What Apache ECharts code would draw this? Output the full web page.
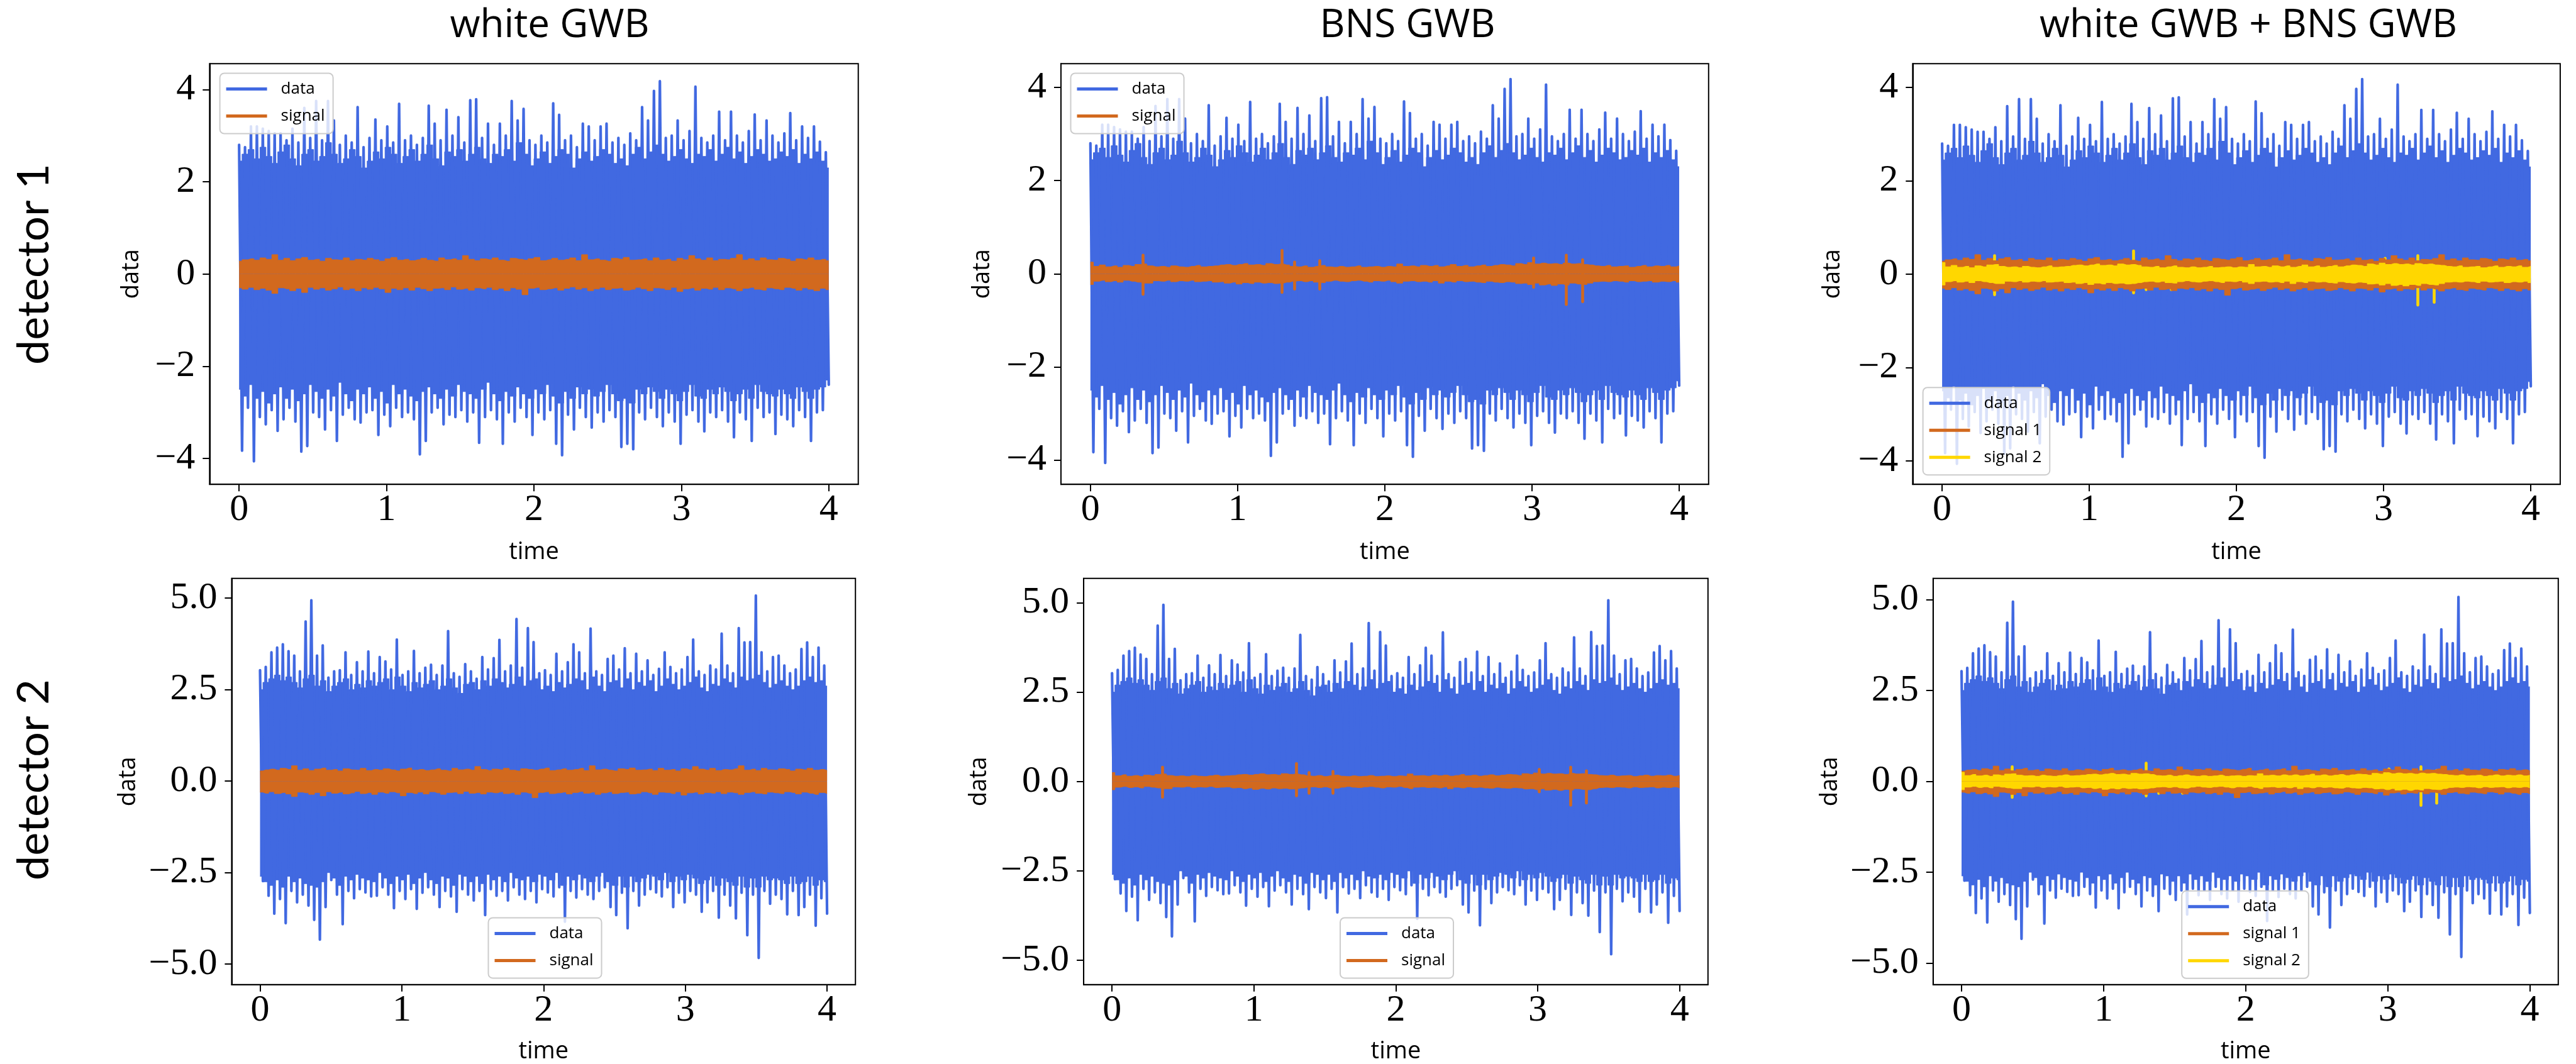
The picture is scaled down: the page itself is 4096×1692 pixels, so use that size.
<!DOCTYPE html>
<html><head><meta charset="utf-8">
<script src="https://cdn.jsdelivr.net/npm/echarts@6/dist/echarts.min.js"></script>
<style>html,body{margin:0;padding:0;background:#fff}#c{width:4096px;height:1692px}</style>
</head><body><div id="c"></div>
<script>
// ---------- data ----------
const timeSpan = [0, 4];
const timeTicks = [0, 1, 2, 3, 4];
const yTicksDet1 = [-4, -2, 0, 2, 4];
const yTicksDet2 = [-5, -2.5, 0, 2.5, 5];
const columnTitles = ['white GWB', 'BNS GWB', 'white GWB + BNS GWB'];
const rowTitles = ['detector 1', 'detector 2'];

// detector 1 data: per time bin, tallest spike up / down
const det1Hi = [2.8,2.75,3.2,3.2,3.15,3.1,3.05,3.05,2.9,3.15,
2.85,3.6,2.95,3.75,2.9,3.75,3.33,2.8,3.0,2.85,
3.62,2.75,2.95,3.35,2.9,3.2,2.85,3.69,2.9,3.0,
2.8,2.95,3.65,3.26,2.9,3.56,3.0,3.4,2.85,3.77,
3.79,2.95,3.26,2.8,3.26,3.0,3.75,3.33,3.58,2.9,
2.8,3.0,2.85,3.7,3.45,2.9,3.0,2.75,3.26,3.2,
2.9,3.2,3.26,2.85,2.95,2.8,3.05,2.9,3.62,3.33,
3.97,4.18,2.95,3.0,3.33,2.9,3.1,4.06,2.95,2.85,
3.0,3.52,2.9,3.52,3.0,2.85,3.1,3.46,2.9,3.33,
3.0,2.85,3.05,3.49,2.9,3.2,2.95,3.2,2.87,2.64];
const det1Lo = [-3.83,-2.9,-4.06,-3.1,-3.26,-2.95,-3.4,-3.15,-2.9,-3.2,
-3.85,-3.73,-3.0,-3.1,-3.37,-2.95,-3.62,-3.05,-2.9,-3.15,
-3.22,-3.0,-2.95,-3.49,-3.05,-3.3,-2.9,-3.1,-3.0,-3.15,
-3.91,-3.62,-3.0,-2.9,-3.26,-3.05,-3.1,-2.95,-3.2,-3.0,
-3.66,-3.1,-2.95,-3.15,-3.68,-3.0,-3.2,-2.9,-3.1,-3.49,
-3.0,-3.15,-2.95,-3.68,-3.93,-3.05,-3.37,-2.9,-3.1,-3.33,
-3.0,-3.2,-2.95,-3.1,-3.75,-3.68,-3.8,-3.0,-3.15,-2.9,
-3.1,-3.3,-3.0,-3.2,-3.68,-3.05,-2.95,-3.2,-3.41,-3.0,
-3.1,-2.95,-3.2,-3.54,-3.0,-3.15,-3.62,-2.9,-3.1,-3.0,
-3.47,-3.05,-3.15,-3.3,-2.95,-3.1,-3.62,-3.0,-2.95,-2.4];
// detector 1 data: per time bin, edge of the dense mass
const det1DenseHi = [2.45,2.6,2.7,2.5,2.75,2.55,2.4,2.65,2.8,2.5,
2.35,2.6,2.7,2.45,2.55,2.85,2.6,2.4,2.5,2.7,
2.55,2.3,2.45,2.65,2.5,2.75,2.6,2.4,2.55,2.7,
2.45,2.6,2.8,2.5,2.35,2.65,2.55,2.7,2.45,2.6,
2.75,2.5,2.4,2.6,2.55,2.7,2.45,2.85,2.6,2.35,
2.5,2.65,2.4,2.55,2.7,2.6,2.3,2.5,2.65,2.45,
2.55,2.7,2.6,2.4,2.5,2.35,2.6,2.75,2.5,2.65,
2.8,2.6,2.45,2.55,2.7,2.5,2.4,2.6,2.55,2.7,
2.45,2.6,2.75,2.5,2.65,2.4,2.55,2.7,2.6,2.45,
2.5,2.65,2.55,2.7,2.4,2.6,2.5,2.65,2.45,2.3];
const det1DenseLo = [-2.5,-2.65,-2.4,-2.7,-2.55,-2.8,-2.6,-2.45,-2.7,-2.5,
-2.75,-2.6,-2.4,-2.55,-2.7,-2.5,-2.65,-2.35,-2.6,-2.75,
-2.5,-2.6,-2.45,-2.7,-2.55,-2.8,-2.4,-2.6,-2.5,-2.65,
-2.75,-2.55,-2.45,-2.6,-2.7,-2.5,-2.65,-2.4,-2.55,-2.6,
-2.7,-2.5,-2.35,-2.6,-2.75,-2.55,-2.65,-2.45,-2.6,-2.7,
-2.5,-2.6,-2.4,-2.65,-2.8,-2.55,-2.7,-2.45,-2.6,-2.5,
-2.65,-2.55,-2.4,-2.6,-2.75,-2.7,-2.8,-2.5,-2.6,-2.45,
-2.55,-2.7,-2.5,-2.6,-2.75,-2.55,-2.4,-2.65,-2.7,-2.5,
-2.6,-2.45,-2.55,-2.75,-2.6,-2.5,-2.7,-2.4,-2.55,-2.6,
-2.65,-2.5,-2.6,-2.7,-2.45,-2.55,-2.7,-2.5,-2.45,-2.3];

// detector 2 data
const det2Hi = [3.03,3.12,3.52,3.65,3.74,3.55,3.43,3.0,4.36,4.94,
3.43,3.71,2.83,3.0,3.03,3.52,2.9,3.25,3.0,3.54,
2.95,3.39,3.27,3.05,3.87,2.9,3.0,3.56,2.95,3.1,
3.18,2.9,3.16,4.1,2.95,2.85,3.2,3.0,2.8,3.39,
3.05,3.36,3.86,3.0,3.16,4.43,3.1,4.18,3.8,2.95,
3.03,2.9,3.48,3.0,3.25,3.74,3.52,2.95,4.17,3.0,
2.9,3.34,3.43,3.05,3.63,2.95,3.48,3.0,3.3,2.9,
3.07,3.52,3.12,2.95,3.05,3.39,3.87,3.0,2.9,3.16,
3.05,4.03,3.16,2.95,4.18,3.79,3.8,5.07,3.52,3.0,
3.39,3.43,3.16,2.95,3.05,3.61,3.79,3.39,3.65,3.16];
const det2Lo = [-2.73,-3.13,-3.62,-3.22,-3.88,-3.0,-3.31,-3.1,-3.4,-3.79,
-4.33,-3.44,-2.7,-3.1,-3.91,-3.0,-3.2,-2.95,-3.04,-3.15,
-3.13,-2.9,-3.1,-3.47,-3.0,-3.22,-2.95,-3.49,-3.05,-2.9,
-3.1,-3.44,-3.0,-3.15,-3.57,-2.95,-3.1,-3.26,-3.0,-3.66,
-2.95,-3.13,-3.0,-3.26,-2.9,-3.1,-3.22,-3.0,-3.31,-2.95,
-3.04,-3.15,-2.9,-3.84,-3.0,-3.18,-2.95,-3.1,-3.22,-3.0,
-2.9,-3.44,-3.66,-3.05,-4.02,-3.0,-3.4,-3.1,-2.95,-3.04,
-3.15,-2.9,-3.44,-3.05,-3.31,-3.0,-3.1,-3.57,-3.31,-3.0,
-3.73,-3.1,-3.4,-3.75,-3.05,-4.21,-3.1,-4.83,-3.0,-3.35,
-3.1,-3.22,-3.64,-3.0,-3.66,-3.44,-3.1,-3.95,-3.2,-3.62];
const det2DenseHi = [2.5,2.7,2.8,2.9,2.75,2.85,2.7,2.55,2.8,2.9,
2.6,2.75,2.45,2.6,2.7,2.8,2.5,2.65,2.55,2.75,
2.6,2.7,2.8,2.5,2.85,2.6,2.45,2.7,2.55,2.65,
2.75,2.5,2.6,2.8,2.55,2.4,2.65,2.7,2.5,2.75,
2.6,2.8,2.7,2.55,2.65,2.85,2.6,2.75,2.8,2.5,
2.6,2.45,2.7,2.55,2.65,2.8,2.75,2.5,2.85,2.6,
2.45,2.7,2.75,2.55,2.8,2.5,2.7,2.6,2.75,2.45,
2.6,2.8,2.65,2.5,2.6,2.7,2.85,2.55,2.45,2.65,
2.6,2.8,2.7,2.55,2.85,2.75,2.8,2.9,2.7,2.55,
2.65,2.75,2.6,2.5,2.6,2.75,2.85,2.7,2.75,2.6];
const det2DenseLo = [-2.6,-2.75,-2.85,-2.7,-2.9,-2.6,-2.75,-2.65,-2.8,-2.85,
-2.9,-2.75,-2.5,-2.65,-2.85,-2.6,-2.7,-2.55,-2.65,-2.7,
-2.75,-2.5,-2.65,-2.8,-2.6,-2.7,-2.55,-2.8,-2.65,-2.5,
-2.7,-2.8,-2.6,-2.65,-2.85,-2.55,-2.6,-2.75,-2.6,-2.8,
-2.55,-2.7,-2.6,-2.75,-2.5,-2.65,-2.7,-2.6,-2.75,-2.55,
-2.6,-2.7,-2.5,-2.85,-2.6,-2.7,-2.55,-2.65,-2.75,-2.6,
-2.5,-2.75,-2.85,-2.6,-2.9,-2.6,-2.75,-2.65,-2.55,-2.6,
-2.7,-2.5,-2.75,-2.6,-2.7,-2.55,-2.65,-2.8,-2.7,-2.6,
-2.85,-2.65,-2.75,-2.85,-2.6,-2.9,-2.65,-2.9,-2.6,-2.7,
-2.65,-2.7,-2.8,-2.6,-2.8,-2.75,-2.6,-2.85,-2.7,-2.75];

// white GWB signal (common to both detectors): per time bin upper / lower edge
const whiteHi = [0.28,0.31,0.33,0.3,0.35,0.32,0.42,0.3,0.34,0.29,
0.33,0.36,0.3,0.32,0.28,0.34,0.31,0.3,0.35,0.29,
0.32,0.3,0.34,0.31,0.28,0.33,0.36,0.3,0.32,0.29,
0.31,0.34,0.3,0.28,0.35,0.31,0.33,0.3,0.4,0.32,
0.29,0.33,0.31,0.35,0.3,0.28,0.34,0.32,0.3,0.33,
0.36,0.29,0.31,0.34,0.3,0.32,0.35,0.29,0.42,0.31,
0.33,0.3,0.28,0.34,0.32,0.36,0.3,0.31,0.33,0.29,
0.35,0.3,0.32,0.28,0.34,0.31,0.4,0.33,0.3,0.35,
0.29,0.32,0.31,0.34,0.42,0.3,0.33,0.29,0.35,0.31,
0.3,0.34,0.32,0.28,0.33,0.31,0.35,0.3,0.32,0.29];
const whiteLo = [-0.3,-0.33,-0.29,-0.34,-0.31,-0.35,-0.42,-0.3,-0.32,-0.36,
-0.31,-0.4,-0.29,-0.33,-0.3,-0.35,-0.32,-0.28,-0.34,-0.31,
-0.36,-0.3,-0.33,-0.29,-0.32,-0.4,-0.31,-0.34,-0.3,-0.35,
-0.29,-0.32,-0.36,-0.31,-0.3,-0.34,-0.28,-0.33,-0.31,-0.35,
-0.3,-0.32,-0.29,-0.34,-0.31,-0.36,-0.3,-0.33,-0.45,-0.31,
-0.29,-0.34,-0.32,-0.3,-0.35,-0.31,-0.28,-0.33,-0.3,-0.36,
-0.32,-0.29,-0.34,-0.31,-0.3,-0.35,-0.33,-0.29,-0.32,-0.36,
-0.3,-0.31,-0.34,-0.29,-0.38,-0.32,-0.3,-0.35,-0.31,-0.33,
-0.29,-0.34,-0.3,-0.32,-0.36,-0.31,-0.29,-0.33,-0.35,-0.3,
-0.32,-0.34,-0.29,-0.31,-0.35,-0.3,-0.33,-0.36,-0.31,-0.34];

// BNS GWB signal (common to both detectors): per time bin upper / lower edge
const bnsHi = [0.25,0.16,0.19,0.15,0.17,0.14,0.18,0.16,0.2,0.21,
0.17,0.15,0.16,0.14,0.17,0.15,0.14,0.16,0.18,0.15,
0.16,0.17,0.19,0.2,0.18,0.2,0.22,0.19,0.2,0.18,
0.22,0.2,0.21,0.19,0.16,0.15,0.17,0.14,0.16,0.18,
0.15,0.14,0.16,0.14,0.15,0.17,0.14,0.15,0.16,0.14,
0.16,0.15,0.21,0.16,0.17,0.15,0.18,0.16,0.18,0.15,
0.17,0.2,0.16,0.18,0.15,0.17,0.19,0.16,0.18,0.2,
0.19,0.17,0.22,0.2,0.24,0.21,0.23,0.21,0.22,0.2,
0.23,0.21,0.22,0.2,0.19,0.17,0.16,0.18,0.15,0.16,
0.17,0.14,0.16,0.18,0.15,0.17,0.16,0.18,0.15,0.17];
const bnsLo = [-0.23,-0.16,-0.14,-0.17,-0.15,-0.18,-0.14,-0.16,-0.18,-0.2,
-0.2,-0.15,-0.16,-0.14,-0.17,-0.15,-0.16,-0.14,-0.17,-0.16,
-0.15,-0.18,-0.17,-0.2,-0.18,-0.22,-0.19,-0.21,-0.18,-0.2,
-0.19,-0.21,-0.2,-0.18,-0.16,-0.15,-0.17,-0.15,-0.18,-0.19,
-0.16,-0.14,-0.16,-0.17,-0.15,-0.14,-0.16,-0.18,-0.15,-0.16,
-0.14,-0.17,-0.2,-0.16,-0.15,-0.17,-0.16,-0.18,-0.15,-0.2,
-0.16,-0.18,-0.15,-0.17,-0.16,-0.18,-0.19,-0.16,-0.18,-0.19,
-0.17,-0.18,-0.21,-0.2,-0.23,-0.2,-0.24,-0.22,-0.25,-0.22,
-0.24,-0.2,-0.22,-0.23,-0.2,-0.17,-0.16,-0.17,-0.15,-0.16,
-0.18,-0.15,-0.17,-0.16,-0.15,-0.18,-0.16,-0.17,-0.15,-0.18];
// BNS GWB signal: isolated bursts (time, peak up, peak down)
const bnsBurstTime = [0.356, 1.30, 1.386, 1.556, 3.008, 3.233, 3.344];
const bnsBurstUp = [0.40, 0.50, 0.25, 0.28, 0.34, 0.40, 0.30];
const bnsBurstDown = [-0.44, -0.40, -0.33, -0.33, -0.29, -0.66, -0.60];

// ---------- layout / style ----------
const BLUE = '#4169E1', ORANGE = '#D2691E', GOLD = '#FFD700';
const SANS = '"Open Sans", "Noto Sans", sans-serif';
const SERIF = '"Liberation Serif", "DejaVu Serif", serif';
const panels = [
  {left:333.3, top:101.3, width:1031.4, height:668.9, ymin:-4.56, ymax:4.56, row:0, col:0, nameGap:105},
  {left:1687.0, top:101.3, width:1029.8, height:668.9, ymin:-4.52, ymax:4.51, row:0, col:1, nameGap:106},
  {left:3041.3, top:101.3, width:1029.6, height:668.9, ymin:-4.5, ymax:4.51, row:0, col:2, nameGap:108},
  {left:368.4, top:919.8, width:991.8, height:646.0, ymin:-5.56, ymax:5.54, row:1, col:0, nameGap:145},
  {left:1723.1, top:919.8, width:992.7, height:646.0, ymin:-5.68, ymax:5.68, row:1, col:1, nameGap:147},
  {left:3073.8, top:919.8, width:994.0, height:646.0, ymin:-5.59, ymax:5.58, row:1, col:2, nameGap:145}
];
const xNameGap = [89, 87];
const legendPos = [
  {left:349.6, top:116.5}, {left:1702.5, top:116.5}, {left:3057.6, top:616.2},
  {left:776.5, top:1459.4}, {left:2131.0, top:1459.4}, {left:3469.2, top:1416.8}
];

function binTimes(n) {
  const span = timeSpan[1] - timeSpan[0];
  return Array.from({length: n}, (_, i) => timeSpan[0] + i * span / (n - 1));
}
function zig(hi, lo) {
  const pts = [], n = hi.length, m = 2 * n - 1, span = timeSpan[1] - timeSpan[0];
  for (let i = 0; i < n; i++) {
    pts.push([timeSpan[0] + (2 * i) * span / m, hi[i]]);
    pts.push([timeSpan[0] + (2 * i + 1) * span / m, lo[i]]);
  }
  return pts;
}
function stepArea(vals, name, idx, color, z) {
  const t = binTimes(vals.length);
  return {type: 'line', name, xAxisIndex: idx, yAxisIndex: idx,
    data: vals.map((v, i) => [t[i], v]), step: 'middle',
    showSymbol: false, symbol: 'none', color,
    lineStyle: {color, width: 1}, areaStyle: {color, opacity: 1, origin: 'auto'},
    z, silent: true, animation: false, clip: true};
}
function spikes(hi, lo, name, idx, color, z) {
  return {type: 'line', name, xAxisIndex: idx, yAxisIndex: idx, data: zig(hi, lo),
    showSymbol: false, symbol: 'none', color,
    lineStyle: {color, width: 4.2, join: 'round', cap: 'round'},
    z, silent: true, animation: false, clip: true};
}
function withBursts(s, color) {
  s.markLine = {silent: true, symbol: ['none', 'none'], label: {show: false}, animation: false,
    emphasis: {disabled: true},
    lineStyle: {color, width: 4.6, type: 'solid', cap: 'round', opacity: 1},
    data: bnsBurstTime.map((t, k) => [{coord: [t, bnsBurstUp[k]]}, {coord: [t, bnsBurstDown[k]]}])};
  return s;
}

const grid = [], xAxis = [], yAxis = [], series = [], legend = [];
panels.forEach((p, i) => {
  grid.push({left: p.left, top: p.top, width: p.width, height: p.height,
    show: true, borderColor: '#000', borderWidth: 2, backgroundColor: 'transparent'});
  xAxis.push({type: 'value', gridIndex: i, min: -0.2, max: 4.2,
    name: 'time', nameLocation: 'middle', nameGap: xNameGap[p.row],
    nameTextStyle: {fontFamily: SANS, fontSize: 38, color: '#000'},
    axisLine: {show: true, onZero: false, lineStyle: {color: '#000', width: 2}},
    axisTick: {show: true, length: 11, lineStyle: {color: '#000', width: 2}, customValues: timeTicks},
    axisLabel: {show: true, margin: 11, fontFamily: SERIF, fontSize: 60, color: '#000', customValues: timeTicks,
      formatter: v => String(v)},
    splitLine: {show: false}});
  const ticks = p.row === 0 ? yTicksDet1 : yTicksDet2;
  yAxis.push({type: 'value', gridIndex: i, min: p.ymin, max: p.ymax,
    name: 'data', nameLocation: 'middle', nameGap: p.nameGap,
    nameTextStyle: {fontFamily: SANS, fontSize: 38, color: '#000'},
    axisLine: {show: true, onZero: false, lineStyle: {color: '#000', width: 2}},
    axisTick: {show: true, length: 11, lineStyle: {color: '#000', width: 2}, customValues: ticks},
    axisLabel: {show: true, margin: 23, fontFamily: SERIF, fontSize: 60, color: '#000', customValues: ticks,
      formatter: v => {
        const s = p.row === 0 ? String(Math.abs(v)) : Math.abs(v).toFixed(1);
        return (v < 0 ? '\u2212' : '') + s;
      }},
    splitLine: {show: false}});
  const d = p.row === 0
    ? {hi: det1Hi, lo: det1Lo, dhi: det1DenseHi, dlo: det1DenseLo}
    : {hi: det2Hi, lo: det2Lo, dhi: det2DenseHi, dlo: det2DenseLo};
  series.push(spikes(d.hi, d.lo, 'data', i, BLUE, 2));
  series.push(stepArea(d.dhi, 'data', i, BLUE, 2));
  series.push(stepArea(d.dlo, 'data', i, BLUE, 2));
  let names;
  if (p.col === 0) {
    series.push(stepArea(whiteHi, 'signal', i, ORANGE, 5), stepArea(whiteLo, 'signal', i, ORANGE, 5));
    names = ['data', 'signal'];
  } else if (p.col === 1) {
    series.push(withBursts(stepArea(bnsHi, 'signal', i, ORANGE, 5), ORANGE), stepArea(bnsLo, 'signal', i, ORANGE, 5));
    names = ['data', 'signal'];
  } else {
    series.push(stepArea(whiteHi, 'signal 1', i, ORANGE, 5), stepArea(whiteLo, 'signal 1', i, ORANGE, 5));
    series.push(withBursts(stepArea(bnsHi, 'signal 2', i, GOLD, 6), GOLD), stepArea(bnsLo, 'signal 2', i, GOLD, 6));
    names = ['data', 'signal 1', 'signal 2'];
  }
  legend.push({orient: 'vertical', left: legendPos[i].left, top: legendPos[i].top, data: names,
    icon: 'rect', itemWidth: 65, itemHeight: 5, itemGap: 13, selectedMode: false, z: 20,
    backgroundColor: 'rgba(255,255,255,0.8)', borderColor: '#cccccc', borderWidth: 2, borderRadius: 7,
    padding: [10, 13, 13, 10],
    textStyle: {fontFamily: SANS, fontSize: 26, lineHeight: 30, color: '#000', padding: [0, 0, 0, 17]}});
});

const colCenters = [874, 2238, 3575];
const graphic = columnTitles.map((t, i) => ({type: 'text', x: colCenters[i], y: 41,
  style: {text: t, fontFamily: SANS, fontSize: 62, fill: '#000', textAlign: 'center', textVerticalAlign: 'middle'}}));
const rowCenters = [420, 1240];
rowTitles.forEach((t, i) => graphic.push({type: 'text', x: 54, y: rowCenters[i], rotation: Math.PI / 2,
  style: {text: t, fontFamily: '"Lato", sans-serif', fontSize: 70, fill: '#000', textAlign: 'center', textVerticalAlign: 'middle'}}));

const chart = echarts.init(document.getElementById('c'), null, {renderer: 'canvas'});
chart.setOption({animation: false, backgroundColor: '#fff', grid, xAxis, yAxis, series, legend, graphic});
</script></body></html>
